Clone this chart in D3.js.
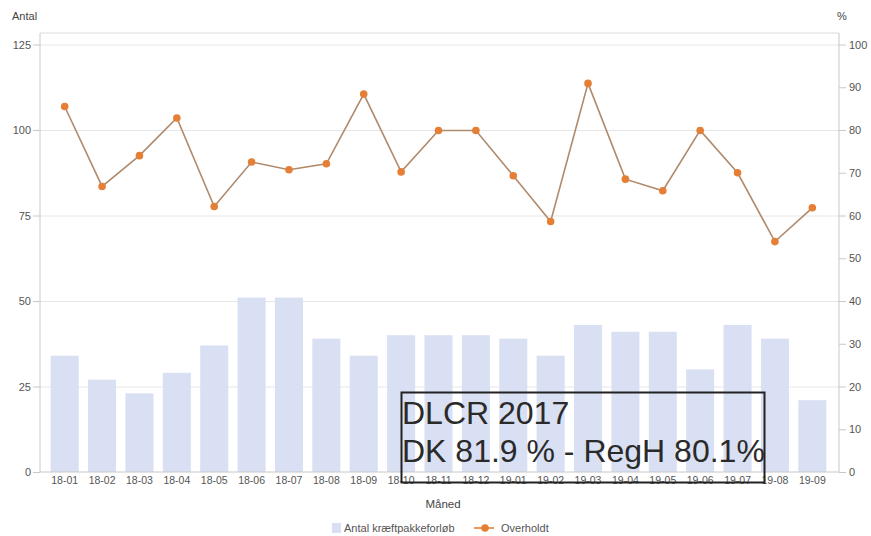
<!DOCTYPE html>
<html>
<head>
<meta charset="utf-8">
<script src="https://cdn.jsdelivr.net/npm/d3@7"></script>
<style>
  body { margin: 0; background: #fff; }
  svg { font-family: "Liberation Sans", Arial, sans-serif; }
  .axis text { fill: #555; }
  .axis path, .axis line { stroke: #c8c8c8; }
</style>
</head>
<body>
<div id="chart"></div>
<script>
var months = ["18-01","18-02","18-03","18-04","18-05","18-06","18-07","18-08","18-09","18-10",
              "18-11","18-12","19-01","19-02","19-03","19-04","19-05","19-06","19-07","19-08","19-09"]
var antal = [34, 27, 23, 29, 37, 51, 51, 39, 34, 40, 40, 40, 39, 34, 43, 41, 41, 30, 43, 39, 21]
var overholdt = [85.5, 66.8, 74, 82.8, 62.1, 72.5, 70.7, 72.1, 88.4, 70.2, 79.9, 79.9, 69.3, 58.6,
                 90.9, 68.5, 65.8, 79.9, 70, 53.9, 61.8]
var leftTicks = [0, 25, 50, 75, 100, 125]
var rightTicks = [0, 10, 20, 30, 40, 50, 60, 70, 80, 90, 100]
var boxLines = ["DLCR 2017", "DK 81.9 % - RegH 80.1%"]

var W = 871, H = 536
var plot = {left: 40, right: 839, top: 33, bottom: 472}

var svg = d3.select("#chart").append("svg")
    .attr("width", W)
    .attr("height", H)

var x = d3.scaleBand()
    .domain(months)
    .range([46, 831])
    .paddingInner(0.25)
    .paddingOuter(0.125)

var yL = d3.scaleLinear().domain([0, 125]).range([plot.bottom, 44.5])
var yR = d3.scaleLinear().domain([0, 100]).range([plot.bottom, 44.5])

// frame top
svg.append("line")
    .attr("x1", plot.left).attr("x2", plot.right)
    .attr("y1", plot.top).attr("y2", plot.top)
    .attr("stroke", "#dcdcdc")

// gridlines
svg.append("g").selectAll("line")
    .data(leftTicks.slice(1))
    .enter().append("line")
    .attr("x1", plot.left).attr("x2", plot.right)
    .attr("y1", function(d) { return yL(d) + 0.5; })
    .attr("y2", function(d) { return yL(d) + 0.5; })
    .attr("stroke", "#e6e6e6")

// bars
svg.append("g").selectAll("rect")
    .data(antal)
    .enter().append("rect")
    .attr("x", function(d, i) { return x(months[i]); })
    .attr("width", x.bandwidth())
    .attr("y", function(d) { return yL(d); })
    .attr("height", function(d) { return yL(0) - yL(d); })
    .attr("fill", "#d9e0f3")

// axes
var axL = svg.append("g")
    .attr("class", "axis")
    .attr("transform", "translate(" + plot.left + ",0)")
    .call(d3.axisLeft(yL).tickValues(leftTicks).tickSize(7).tickPadding(2).tickSizeOuter(0))
axL.select(".domain").attr("d", "M0," + plot.top + "V" + plot.bottom)
axL.selectAll("text").style("font-size", "11px")

var axR = svg.append("g")
    .attr("class", "axis")
    .attr("transform", "translate(" + plot.right + ",0)")
    .call(d3.axisRight(yR).tickValues(rightTicks).tickSize(7).tickPadding(3).tickSizeOuter(0))
axR.select(".domain").attr("d", "M0," + plot.top + "V" + plot.bottom)
axR.selectAll("text").style("font-size", "11px")

var axB = svg.append("g")
    .attr("class", "axis")
    .attr("transform", "translate(0," + plot.bottom + ")")
    .call(d3.axisBottom(x).tickSize(0).tickPadding(5))
axB.select(".domain").attr("d", "M" + plot.left + ",0H" + plot.right).attr("stroke", "#e0e0e0")
axB.selectAll("text").style("font-size", "10.5px")

// line series
var line = d3.line()
    .x(function(d, i) { return x(months[i]) + x.bandwidth() / 2; })
    .y(function(d) { return yR(d); })

svg.append("path")
    .datum(overholdt)
    .attr("d", line)
    .attr("fill", "none")
    .attr("stroke", "#b08a6c")
    .attr("stroke-width", 1.6)

svg.append("g").selectAll("circle")
    .data(overholdt)
    .enter().append("circle")
    .attr("cx", function(d, i) { return x(months[i]) + x.bandwidth() / 2; })
    .attr("cy", function(d) { return yR(d); })
    .attr("r", 3.8)
    .attr("fill", "#e57f35")

// axis titles
svg.append("text").attr("x", 12).attr("y", 20)
    .style("font-size", "11px").attr("fill", "#444").text("Antal")
svg.append("text").attr("x", 837).attr("y", 20)
    .style("font-size", "11px").attr("fill", "#444").text("%")
svg.append("text").attr("x", 443).attr("y", 508)
    .attr("text-anchor", "middle")
    .style("font-size", "11.5px").attr("fill", "#444").text("Måned")

// legend
var lg = svg.append("g").attr("transform", "translate(0,528)")
lg.append("rect").attr("x", 332).attr("y", -5).attr("width", 9).attr("height", 10).attr("fill", "#d9e0f3")
lg.append("text").attr("x", 344).attr("y", 3.5)
    .style("font-size", "11px").attr("fill", "#555").text("Antal kræftpakkeforløb")
lg.append("line").attr("x1", 474).attr("x2", 494).attr("y1", 0).attr("y2", 0)
    .attr("stroke", "#e57f35").attr("stroke-width", 1.6)
lg.append("circle").attr("cx", 485).attr("cy", 0).attr("r", 3.8).attr("fill", "#e57f35")
lg.append("text").attr("x", 501).attr("y", 3.5)
    .style("font-size", "11px").attr("fill", "#555").text("Overholdt")

// annotation box
svg.append("rect")
    .attr("x", 401.5).attr("y", 392.5)
    .attr("width", 363).attr("height", 90)
    .attr("fill", "none")
    .attr("stroke", "#222")
    .attr("stroke-width", 2)

svg.append("g").selectAll("text")
    .data(boxLines)
    .enter().append("text")
    .attr("x", 402)
    .attr("y", function(d, i) { return 424 + i * 37.5; })
    .style("font-size", "32px")
    .attr("fill", "#2a2a2a")
    .text(function(d) { return d; })
</script>
</body>
</html>
